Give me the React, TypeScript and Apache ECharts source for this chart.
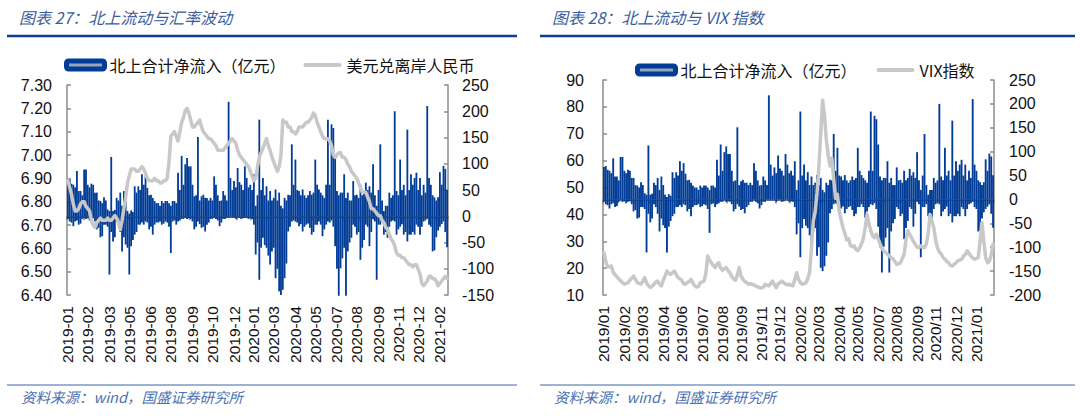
import React, { useEffect, useRef } from "react";
import * as echarts from "echarts";

// 北上合计净流入（亿元）: each category covers a few trading days, so the
// daily bars are kept as the upper and lower reach.
const NET_INFLOW_HIGH: number[] = [
  68, 70, 62, 60, 55, 86, 48, 48, 40, 89,
  89, 60, 55, 62, 60, 45, 45, 30, 29, 25,
  36, 30, 13, 10, 113, 10, 12, 35, 30, 45,
  20, 48, 30, 10, 5, 11, 8, 57, 45, 57,
  50, 80, 60, 76, 54, 40, 41, 35, 29, 25,
  25, 20, 29, 25, 29, 29, 25, 20, 29, 29,
  25, 83, 50, 115, 60, 99, 111, 95, 95, 60,
  38, 40, 151, 30, 38, 41, 35, 35, 30, 35,
  30, 76, 60, 40, 29, 30, 48, 40, 30, 218,
  73, 50, 67, 55, 92, 65, 60, 50, 95, 73,
  55, 60, 50, 80, 20, 40, 184, 50, 73, 40,
  57, 30, 48, 30, 35, 51, 30, 45, 20, 15,
  35, 30, 41, 40, 137, 60, 108, 50, 48, 40,
  51, 40, 35, 40, 48, 41, 45, 108, 60, 51,
  45, 40, 35, 60, 184, 60, 175, 168, 115, 48,
  40, 45, 45, 80, 35, 45, 30, 30, 67, 40,
  41, 35, 60, 40, 45, 64, 50, 57, 45, 99,
  40, 20, 50, 137, 30, 10, 20, 20, 45, 35,
  40, 200, 48, 40, 108, 50, 60, 40, 165, 50,
  80, 60, 73, 83, 50, 73, 40, 60, 45, 210,
  73, 60, 40, 36, 30, 36, 84, 60, 96, 90,
  50,
];
const NET_INFLOW_LOW: number[] = [
  -5, -10, -12, -19, -10, -8, -16, -14, -5, -3,
  -5, -4, -8, -5, -4, -10, -25, -22, -40, -38,
  -16, -16, -20, -111, -30, -48, -40, -10, -16, -30,
  -67, -40, -54, -60, -111, -57, -45, -35, -30, -16,
  -16, -12, -16, -10, -12, -25, -20, -35, -16, -12,
  -12, -10, -16, -14, -10, -12, -20, -70, -10, -8,
  -16, -10, -8, -5, -5, -3, -5, -4, -5, -10,
  -25, -20, -10, -15, -22, -20, -29, -16, -12, -5,
  -5, -3, -5, -8, -19, -12, -5, -5, -3, -3,
  -2, -3, -3, -5, -3, -3, -5, -4, -3, -3,
  -5, -4, -5, -16, -73, -50, -121, -60, -41, -55,
  -60, -75, -92, -67, -60, -118, -100, -143, -150, -140,
  -118, -90, -29, -20, -10, -8, -10, -12, -19, -15,
  -29, -20, -16, -14, -22, -35, -30, -16, -16, -10,
  -16, -38, -25, -16, -10, -12, -8, -20, -57, -100,
  -153, -99, -80, -60, -153, -67, -50, -41, -16, -20,
  -35, -30, -83, -60, -45, -16, -20, -57, -30, -5,
  -10, -121, -16, -16, -10, -35, -30, -41, -20, -10,
  -8, -10, -35, -25, -20, -15, -35, -30, -48, -35,
  -35, -30, -35, -16, -20, -35, -20, -10, -8, -5,
  -16, -20, -67, -65, -40, -27, -20, -15, -10, -30,
  -59,
];

// 美元兑离岸人民币
const USD_CNH: number[] = [
  6.89, 6.86, 6.83, 6.79, 6.76, 6.76, 6.77, 6.79, 6.8, 6.8,
  6.78, 6.77, 6.76, 6.72, 6.7, 6.69, 6.71, 6.72, 6.73, 6.72,
  6.72, 6.72, 6.73, 6.72, 6.72, 6.73, 6.74, 6.73, 6.71, 6.68,
  6.72, 6.77, 6.82, 6.88, 6.91, 6.94, 6.94, 6.94, 6.93, 6.93,
  6.94, 6.95, 6.94, 6.92, 6.9, 6.89, 6.89, 6.89, 6.9, 6.89,
  6.89, 6.88, 6.88, 6.89, 6.89, 6.9, 6.97, 7.08, 7.09, 7.1,
  7.08, 7.06, 7.1, 7.14, 7.16, 7.19, 7.2, 7.18, 7.15, 7.12,
  7.12, 7.13, 7.14, 7.15, 7.12, 7.1, 7.09, 7.08, 7.07, 7.07,
  7.06, 7.05, 7.04, 7.02, 7.02, 7.02, 7.02, 7.03, 7.04, 7.05,
  7.06, 7.07, 7.06, 7.05, 7.02, 7.0, 6.99, 6.98, 6.97, 6.96,
  6.95, 6.93, 6.91, 6.89, 6.9, 6.95, 6.99, 7.01, 7.03, 7.05,
  7.07, 7.04, 7.02, 6.99, 6.97, 6.95, 6.93, 6.95, 7.0, 7.15,
  7.14, 7.14, 7.12, 7.12, 7.1, 7.1, 7.09, 7.1, 7.12, 7.12,
  7.12, 7.13, 7.14, 7.14, 7.15, 7.16, 7.18, 7.17, 7.14, 7.12,
  7.1, 7.08, 7.07, 7.07, 7.07, 7.06, 7.04, 7.0, 6.99, 7.0,
  7.01, 7.01, 6.99, 6.99, 6.98, 6.96, 6.95, 6.93, 6.92, 6.91,
  6.9, 6.88, 6.86, 6.84, 6.84, 6.84, 6.82, 6.8, 6.77, 6.77,
  6.76, 6.75, 6.74, 6.74, 6.72, 6.71, 6.69, 6.68, 6.66, 6.64,
  6.63, 6.61, 6.58, 6.57, 6.57, 6.56, 6.56, 6.55, 6.54, 6.53,
  6.53, 6.52, 6.53, 6.53, 6.51, 6.49, 6.45, 6.44, 6.45, 6.46,
  6.48, 6.48, 6.47, 6.47, 6.46, 6.44, 6.45, 6.46, 6.47, 6.48,
  6.47,
];

// VIX指数
const VIX: number[] = [
  25.8, 22.5, 20.5, 20.5, 20.8, 18.5, 17.5, 16.8, 16.0, 15.3,
  14.6, 14.0, 14.3, 14.6, 15.5, 16.2, 17.0, 15.8, 14.6, 14.3,
  14.0, 15.2, 16.5, 14.5, 13.5, 12.8, 13.2, 14.0, 14.8, 15.2,
  14.0, 13.4, 15.5, 17.0, 18.9, 18.0, 17.7, 18.3, 18.9, 17.5,
  16.5, 16.0, 15.5, 14.2, 14.0, 14.6, 15.0, 15.8, 14.5, 13.4,
  12.9, 13.2, 14.6, 14.8, 15.2, 18.0, 24.5, 23.0, 22.0, 21.0,
  20.2, 21.5, 22.0, 20.0, 19.2, 19.8, 20.2, 19.0, 18.3, 16.8,
  16.0, 15.5, 17.5, 20.2, 17.0, 15.8, 15.0, 14.6, 14.0, 14.2,
  14.0, 13.7, 13.4, 13.0, 12.7, 12.6, 12.9, 14.0, 13.6, 13.4,
  14.2, 15.2, 13.8, 12.7, 14.2, 14.6, 15.2, 14.6, 14.0, 13.8,
  14.0, 13.6, 13.4, 15.8, 18.3, 15.8, 14.6, 14.0, 14.2, 14.6,
  16.0, 18.5, 27.6, 37.6, 41.0, 48.0, 58.0, 70.0, 82.5, 77.0,
  68.0, 62.0, 58.0, 61.0, 53.0, 46.0, 47.5, 41.0, 38.0, 35.0,
  33.0, 30.5, 31.0, 28.5, 28.0, 28.3, 27.0, 26.5, 27.6, 29.0,
  31.0, 35.0, 40.0, 36.5, 34.0, 32.0, 31.3, 32.6, 31.0, 29.0,
  27.5, 26.4, 25.8, 25.2, 24.5, 23.9, 23.5, 22.5, 21.4, 21.6,
  22.0, 23.5, 25.2, 30.5, 33.9, 32.6, 31.3, 30.0, 28.9, 27.8,
  27.6, 28.3, 28.0, 27.6, 29.0, 33.0, 40.0, 37.5, 35.1, 30.5,
  27.6, 26.0, 25.2, 24.0, 23.3, 22.5, 22.0, 21.0, 20.8, 21.4,
  22.0, 22.7, 23.0, 23.3, 24.5, 25.0, 26.4, 25.5, 24.5, 23.8,
  23.3, 23.6, 24.0, 30.0, 37.0, 30.0, 24.0, 22.0, 22.5, 25.0,
  29.0,
];

const LEFT_TICKS: string[] = [
  "2019-01", "2019-02", "2019-03", "2019-05", "2019-06", "2019-08", "2019-09",
  "2019-10", "2019-12", "2020-01", "2020-03", "2020-04", "2020-05", "2020-07",
  "2020-08", "2020-09", "2020-11", "2020-12", "2021-02",
];
const RIGHT_TICKS: string[] = [
  "2019/01", "2019/02", "2019/03", "2019/04", "2019/06", "2019/07", "2019/08",
  "2019/09", "2019/11", "2019/12", "2020/02", "2020/03", "2020/04", "2020/05",
  "2020/07", "2020/08", "2020/09", "2020/11", "2020/12", "2021/01",
];

const FLOW_NAME = "北上合计净流入（亿元）";
const CNH_NAME = "美元兑离岸人民币";
const VIX_NAME = "VIX指数";
const TITLE_L = "图表 27：北上流动与汇率波动";
const TITLE_R = "图表 28：北上流动与 VIX 指数";
const SOURCE = "资料来源：wind，国盛证券研究所";

const N = NET_INFLOW_HIGH.length;
const CATEGORIES = NET_INFLOW_HIGH.map((_, i) => `D${i + 1}`);

function labelMap(ticks: string[], start: number, step: number) {
  const m = new Map<number, string>();
  ticks.forEach((t, k) => m.set(Math.round(start + k * step), t));
  return m;
}
function tickSet(step: number) {
  const s = new Set<number>();
  for (let k = 0; k * step < N; k++) s.add(Math.round(k * step));
  return s;
}

const L_LABELS = labelMap(LEFT_TICKS, 0, 11.44);
const R_LABELS = labelMap(RIGHT_TICKS, 0.3, 10.54);
const L_BASE = tickSet(8.5);
const R_BASE = tickSet(8.42);

const BLUE = "#013C96";
const GRAY_LINE = "#C8C8C8";
const AXIS_GRAY = "#8C8C8C";
const CJK = "'Noto Sans CJK SC', 'Noto Sans', sans-serif";
const NUM_FONT = "'Liberation Sans', Arial, sans-serif";
// rounded thick line icon inside a 38 x 8 box
const LINE_ICON =
  "path://M0,0L0.01,0L0.01,0.01Z M38,8L37.99,8L37.99,7.99Z M2,2L36,2A2,2,0,0,1,36,6L2,6A2,2,0,0,1,2,2Z";

function yAxis(gridIndex: number, position: string, min: number, max: number, interval: number, margin: number, digits: number) {
  return {
    type: "value",
    gridIndex,
    position,
    min,
    max,
    interval,
    axisLine: { show: true, onZero: false, lineStyle: { color: AXIS_GRAY, width: 1.5 } },
    axisTick: { show: true, inside: true, length: 4, lineStyle: { color: AXIS_GRAY, width: 1.5 } },
    axisLabel: {
      color: "#111",
      fontFamily: NUM_FONT,
      fontSize: 16,
      margin,
      formatter: (v: number) => v.toFixed(digits),
    },
    splitLine: { show: false },
  };
}

function labelAxis(gridIndex: number, labels: Map<number, string>) {
  return {
    type: "category",
    gridIndex,
    data: CATEGORIES,
    position: "bottom",
    axisLine: { show: false, onZero: false },
    axisTick: { show: false },
    splitLine: { show: false },
    axisLabel: {
      show: true,
      rotate: 90,
      margin: 11,
      color: "#111",
      fontFamily: NUM_FONT,
      fontSize: 15.5,
      interval: (i: number) => labels.has(i),
      formatter: (_v: string, i: number) => labels.get(i) ?? "",
    },
  };
}

function baseAxis(gridIndex: number, zeroAxis: number, ticks: Set<number>) {
  return {
    type: "category",
    gridIndex,
    data: CATEGORIES,
    position: "bottom",
    axisLine: { show: true, onZero: true, onZeroAxisIndex: zeroAxis, lineStyle: { color: "#808080", width: 2 } },
    axisTick: { show: true, length: 4, interval: (i: number) => ticks.has(i), lineStyle: { color: "#808080", width: 1.5 } },
    axisLabel: { show: false },
    splitLine: { show: false },
  };
}

const legendText = { fontSize: 16, fontFamily: CJK, color: "#111" };
const flowLegendItem = {
  name: FLOW_NAME,
  icon: "roundRect",
  itemStyle: { color: "#9AA3B8", borderColor: BLUE, borderWidth: 5 },
};
function lineLegendItem(name: string) {
  return { name, icon: LINE_ICON, itemStyle: { color: GRAY_LINE, borderWidth: 0 } };
}

function barSeries(data: number[], xi: number, yi: number) {
  return {
    name: FLOW_NAME,
    type: "bar",
    xAxisIndex: xi,
    yAxisIndex: yi,
    data,
    barWidth: "100%",
    barGap: "-100%",
    itemStyle: { color: BLUE, borderColor: BLUE, borderWidth: 1.5 },
    z: 2,
  };
}
function lineSeries(name: string, data: number[], xi: number, yi: number) {
  return {
    name,
    type: "line",
    xAxisIndex: xi,
    yAxisIndex: yi,
    data,
    symbol: "none",
    lineStyle: { color: GRAY_LINE, width: 3.5, cap: "round", join: "round" },
    itemStyle: { color: GRAY_LINE },
    z: 3,
  };
}

function textEl(text: string, left: number, top: number, size: number, fill: string) {
  return {
    type: "text",
    left,
    top,
    style: { text, fontSize: size, fontStyle: "italic", fontFamily: CJK, fill },
  };
}
function lineEl(x1: number, x2: number, y: number, w: number, color: string) {
  return { type: "line", shape: { x1, y1: y, x2, y2: y }, style: { stroke: color, lineWidth: w } };
}

export default function App() {
  const ref = useRef<HTMLDivElement>(null);
  useEffect(() => {
    if (!ref.current) return;
    const chart = echarts.init(ref.current, null, { renderer: "svg" });
    chart.setOption({
      animation: false,
      backgroundColor: "#fff",
      grid: [
        { left: 67, top: 85, width: 381, height: 210 },
        { left: 603, top: 80, width: 391, height: 215 },
      ],
      legend: [
        {
          left: 64, top: 57, padding: 0, itemWidth: 38, itemHeight: 8, itemGap: 18, textStyle: legendText,
          data: [flowLegendItem, lineLegendItem(CNH_NAME)],
        },
        {
          left: 635, top: 62, padding: 0, itemWidth: 38, itemHeight: 8, itemGap: 20, textStyle: legendText,
          data: [flowLegendItem, lineLegendItem(VIX_NAME)],
        },
      ],
      xAxis: [
        labelAxis(0, L_LABELS),
        baseAxis(0, 1, L_BASE),
        labelAxis(1, R_LABELS),
        baseAxis(1, 3, R_BASE),
      ],
      yAxis: [
        yAxis(0, "left", 6.4, 7.3, 0.1, 15, 2),
        yAxis(0, "right", -150, 250, 50, 14, 0),
        yAxis(1, "left", 10, 90, 10, 19, 0),
        yAxis(1, "right", -200, 250, 50, 15, 0),
      ],
      series: [
        barSeries(NET_INFLOW_HIGH, 0, 1),
        barSeries(NET_INFLOW_LOW, 0, 1),
        lineSeries(CNH_NAME, USD_CNH, 0, 0),
        barSeries(NET_INFLOW_HIGH, 2, 3),
        barSeries(NET_INFLOW_LOW, 2, 3),
        lineSeries(VIX_NAME, VIX, 2, 2),
      ],
      graphic: [
        textEl(TITLE_L, 19, 9, 16, "#3A5C9E"),
        lineEl(7, 517, 36, 2.5, "#0E3E8E"),
        textEl(TITLE_R, 552, 9, 16, "#3A5C9E"),
        lineEl(540, 1075, 36, 2.5, "#0E3E8E"),
        lineEl(7, 517, 385, 1, "#3D64A8"),
        lineEl(540, 1075, 385, 1, "#3D64A8"),
        textEl(SOURCE, 21, 389, 14.5, "#4A70B2"),
        textEl(SOURCE, 554, 389, 14.5, "#4A70B2"),
      ],
    });
    return () => chart.dispose();
  }, []);
  return (
    <div
      ref={ref}
      style={{ position: "absolute", left: 0, top: 0, width: 1080, height: 416, background: "#fff" }}
    />
  );
}
